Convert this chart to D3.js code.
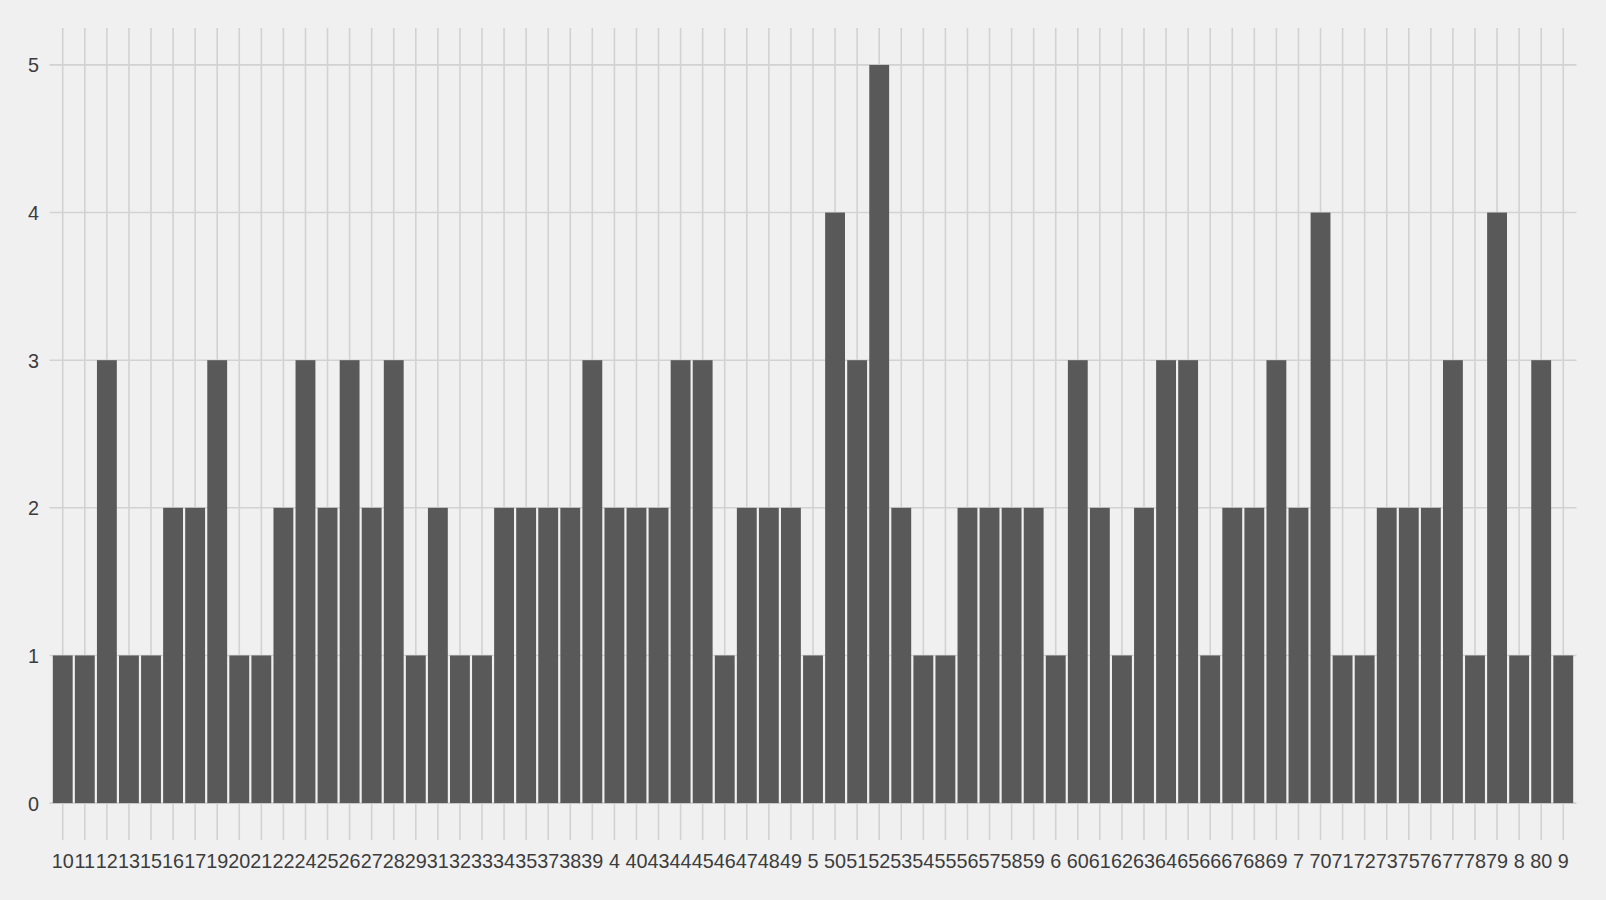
<!DOCTYPE html>
<html><head><meta charset="utf-8">
<script src="https://cdn.jsdelivr.net/npm/d3@7"></script>
<style>html,body{margin:0;padding:0;background:#F0F0F0;}svg{display:block;}</style>
</head><body>
<svg id="chart" width="1606" height="900"></svg>
<script>
const categories = ["10","11","12","13","15","16","17","19","20","21","22","24","25","26","27","28","29","31","32","33","34","35","37","38","39","4","40","43","44","45","46","47","48","49","5","50","51","52","53","54","55","56","57","58","59","6","60","61","62","63","64","65","66","67","68","69","7","70","71","72","73","75","76","77","78","79","8","80","9"];
const counts = [1,1,3,1,1,2,2,3,1,1,2,3,2,3,2,3,1,2,1,1,2,2,2,2,3,2,2,2,3,3,1,2,2,2,1,4,3,5,2,1,1,2,2,2,2,1,3,2,1,2,3,3,1,2,2,3,2,4,1,1,2,2,2,3,1,4,1,3,1];
const yTicks = [0,1,2,3,4,5];

const svg = d3.select("#chart");
const W = 1606, H = 900;
svg.append("rect").attr("width", W).attr("height", H).attr("fill", "#F0F0F0");

const pLeft = 49.5, pRight = 1576.5, pTop = 28, pBottom = 840;
const x = d3.scaleBand().domain(categories)
  .range([pLeft, pRight])
  .paddingInner(0.1).paddingOuter(0.15);
const y = d3.scaleLinear().domain([-0.25, 5.25]).range([pBottom, pTop]);

const grid = svg.append("g");
grid.selectAll("line.v").data(categories).enter().append("line")
  .attr("x1", d => x(d) + x.bandwidth() / 2).attr("x2", d => x(d) + x.bandwidth() / 2)
  .attr("y1", pTop).attr("y2", pBottom)
  .attr("stroke", "#D2D2D2").attr("stroke-width", 1.6);
grid.selectAll("line.h").data(yTicks).enter().append("line")
  .attr("x1", pLeft).attr("x2", pRight)
  .attr("y1", d => y(d)).attr("y2", d => y(d))
  .attr("stroke", "#D2D2D2").attr("stroke-width", 1.6);

svg.append("g").selectAll("rect").data(categories).enter().append("rect")
  .attr("x", d => x(d)).attr("width", x.bandwidth())
  .attr("y", (d, i) => y(counts[i])).attr("height", (d, i) => y(0) - y(counts[i]))
  .attr("fill", "#595959");

const font = "'Liberation Sans', Arial, sans-serif";
const xAxis = d3.axisBottom(x).tickSize(0).tickPadding(0);
const gx = svg.append("g").attr("transform", `translate(0,${pBottom + 28})`).call(xAxis);
gx.select(".domain").remove();
gx.selectAll("text").attr("font-family", font).attr("font-size", 19.8).attr("fill", "#3C3C3C").attr("dy", "0");

const yAxis = d3.axisLeft(y).tickValues(yTicks).tickSize(0).tickPadding(0).tickFormat(d3.format("d"));
const gy = svg.append("g").attr("transform", `translate(39,0)`).call(yAxis);
gy.select(".domain").remove();
gy.selectAll("text").attr("font-family", font).attr("font-size", 19.8).attr("fill", "#3C3C3C").attr("dy", "0.35em");
</script>
</body></html>
